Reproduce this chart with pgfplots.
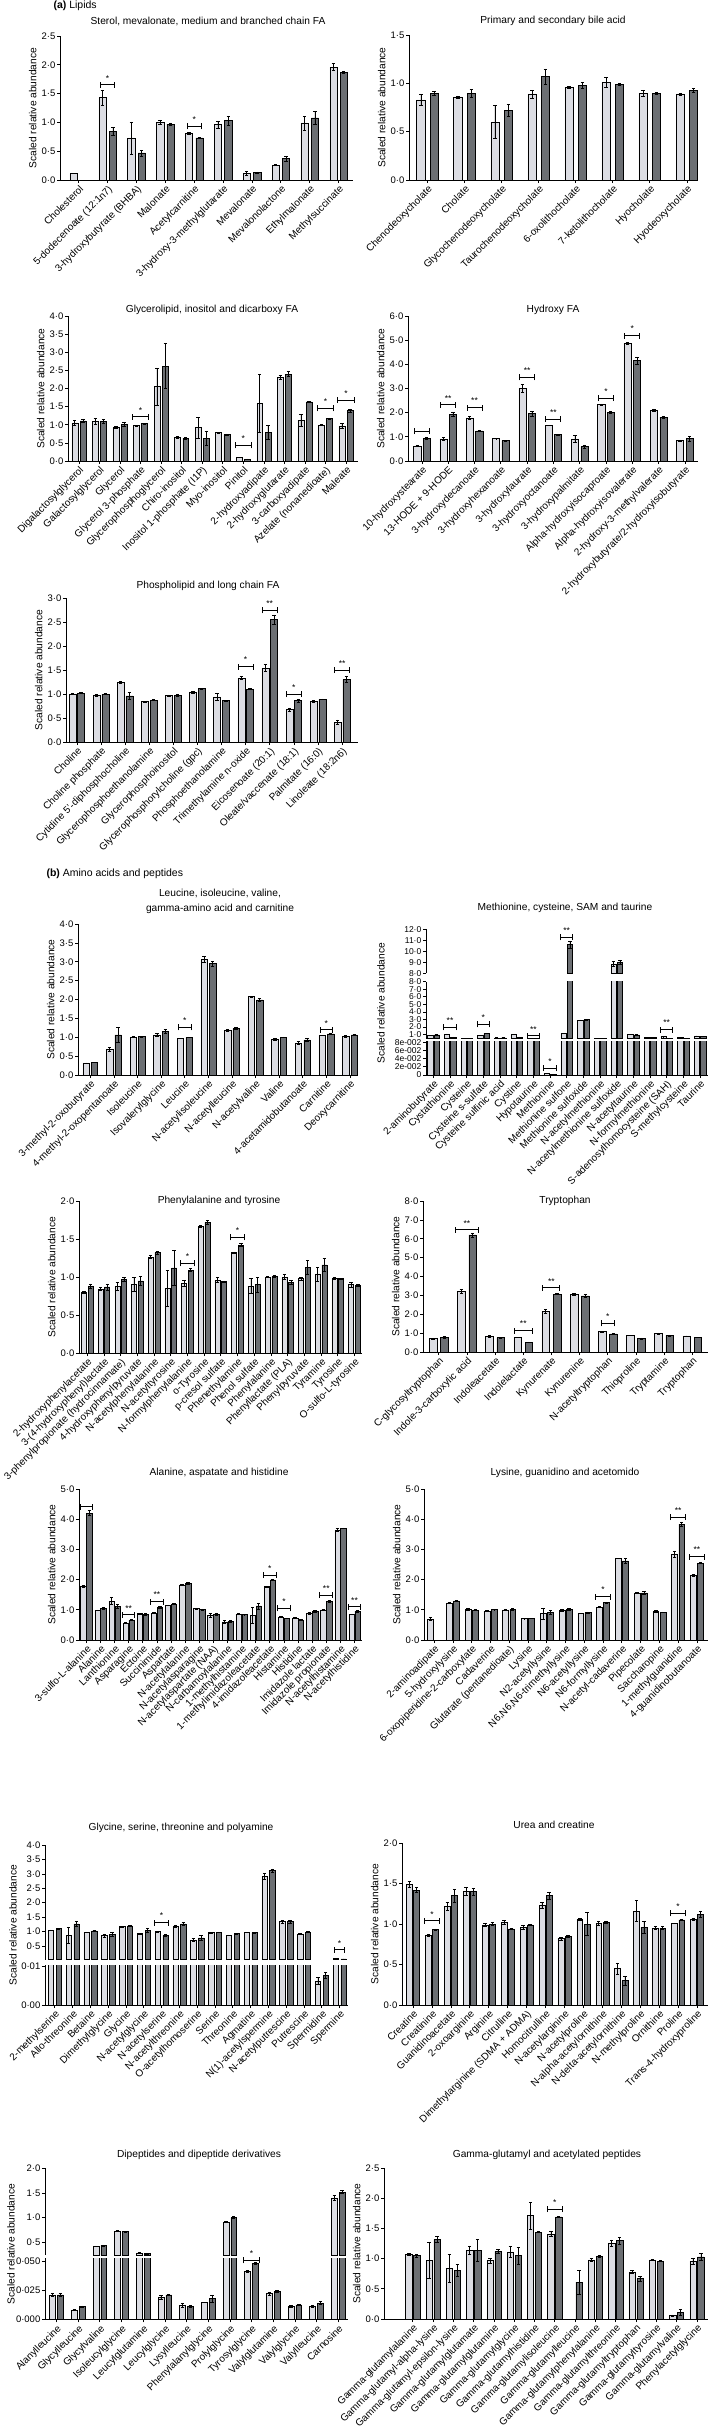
\documentclass[border=0pt]{standalone}
\usepackage{fontspec}
\setmainfont{Liberation Sans}
\usepackage{pgfplots}
\usepackage{pgfplotstable}
\pgfplotsset{compat=1.18}
\definecolor{lightc}{RGB}{220,221,227}
\definecolor{darkc}{RGB}{108,111,115}

\pgfplotsset{
  panel/.style={
    scale only axis, ybar, ymin=0, anchor=north west,
    axis lines*=left,
    axis line style={line width=0.9pt, black},
    tick style={line width=0.7pt, black},
    tick align=outside, major tick length=3pt,
    enlarge x limits=false,
    scaled y ticks=false,
    clip mode=individual,
    yticklabel style={font=\fontsize{9.5}{10}\selectfont, inner sep=1.5pt},
    xticklabel style={rotate=45, anchor=north east, inner sep=1pt, font=\fontsize{10}{11}\selectfont},
    ylabel={Scaled relative abundance},
    ylabel style={font=\fontsize{10.2}{11}\selectfont},
  },
  lbar/.style={fill=lightc, draw=black, line width=0.5pt,
    error bars/.cd, y dir=both, y explicit,
    error bar style={line width=0.6pt, black},
    error mark options={rotate=90, mark size=1.7pt, line width=0.6pt, black}},
  dbar/.style={fill=darkc, draw=black, line width=0.5pt,
    error bars/.cd, y dir=both, y explicit,
    error bar style={line width=0.6pt, black},
    error mark options={rotate=90, mark size=1.7pt, line width=0.6pt, black}},
}
\newcommand{\bars}[3]{%
  \addplot[bar width=#2, bar shift=-#3, lbar] table[x=x,y=a,y error=ae]{#1};
  \addplot[bar width=#2, bar shift=#3, dbar] table[x=x,y=b,y error=be]{#1};
}
\newcommand{\sig}[4]{%
  \draw[line width=1pt, black] (axis cs:#1,#2) ++(-#4pt,0pt) -- ++(2*#4pt,0pt);
  \draw[line width=1pt, black] (axis cs:#1,#2) ++(-#4pt,-3pt) -- ++(0pt,6pt);
  \draw[line width=1pt, black] (axis cs:#1,#2) ++(#4pt,-3pt) -- ++(0pt,6pt);
  \node[anchor=south, inner sep=0pt, yshift=3.5pt, font=\fontsize{8.5}{8.5}\selectfont] at (axis cs:#1,#2) {#3};
}

% ---------------- data ----------------
\pgfplotstableread{
x a ae b be
0 0.11 0 nan nan
1 1.43 0.13 0.84 0.07
2 0.73 0.28 0.47 0.05
3 1.00 0.03 0.97 0.02
4 0.81 0.02 0.73 0.01
5 0.96 0.06 1.03 0.08
6 0.12 0.03 0.13 0.01
7 0.26 0.01 0.37 0.04
8 0.99 0.12 1.08 0.11
9 1.96 0.06 1.87 0.02
}\tSterol
\pgfplotstableread{
x a ae b be
0 0.83 0.06 0.90 0.02
1 0.86 0.01 0.90 0.04
2 0.60 0.17 0.72 0.06
3 0.89 0.04 1.07 0.08
4 0.96 0.01 0.98 0.03
5 1.01 0.05 0.99 0.01
6 0.90 0.03 0.90 0.01
7 0.89 0.01 0.93 0.02
}\tBile
\pgfplotstableread{
x a ae b be
0 1.05 0.06 1.11 0.05
1 1.09 0.08 1.09 0.06
2 0.93 0.02 1.01 0.05
3 0.98 0.01 1.03 0.01
4 2.05 0.52 2.62 0.62
5 0.65 0.03 0.63 0.02
6 0.92 0.28 0.63 0.20
7 0.78 0.01 0.73 0.02
8 0.10 0.01 0.05 0.01
9 1.59 0.80 0.79 0.20
10 2.31 0.06 2.40 0.07
11 1.13 0.16 1.63 0.02
12 0.99 0.01 1.17 0.02
13 0.97 0.06 1.39 0.05
}\tGlyc
\pgfplotstableread{
x a ae b be
0 0.63 0.02 0.95 0.05
1 0.92 0.07 1.93 0.10
2 1.78 0.07 1.25 0.04
3 0.93 0.01 0.84 0.01
4 3.01 0.15 1.97 0.10
5 1.47 0.01 1.09 0.01
6 0.92 0.15 0.59 0.08
7 2.33 0.03 2.01 0.03
8 4.87 0.05 4.15 0.13
9 2.10 0.06 1.82 0.04
10 0.84 0.03 0.93 0.10
}\tHydroxy
\pgfplotstableread{
x a ae b be
0 1.00 0.005 1.02 0.01
1 0.98 0.02 1.00 0.01
2 1.25 0.02 0.96 0.08
3 0.84 0.01 0.87 0.01
4 0.97 0.01 0.97 0.02
5 1.04 0.02 1.11 0.01
6 0.94 0.07 0.86 0.01
7 1.33 0.03 1.10 0.01
8 1.54 0.07 2.55 0.10
9 0.68 0.03 0.86 0.03
10 0.84 0.02 0.89 0.01
11 0.41 0.05 1.30 0.06
}\tPhos
\pgfplotstableread{
x a ae b be
0 0.32 0 0.33 0
1 0.68 0.06 1.06 0.20
2 1.01 0.01 1.02 0.01
3 1.06 0.04 1.15 0.05
4 0.97 0.005 1.00 0.01
5 3.07 0.08 2.95 0.07
6 1.19 0.02 1.23 0.03
7 2.08 0.01 1.99 0.04
8 0.94 0.02 1.00 0.01
9 0.85 0.03 0.93 0.04
10 1.05 0.005 1.09 0.005
11 1.02 0.02 1.06 0.01
}\tLeu
\pgfplotstableread{
x a ae b be
0 0.90 0.02 0.95 0.03
1 1.05 0.02 0.65 0.02
2 0.50 0.01 0.48 0.01
3 0.88 0.02 1.14 0.03
4 0.55 0.01 0.55 0.01
5 1.00 0.03 0.62 0.05
6 0.50 0.01 0.47 0.01
7 0.004 0.0005 0.0015 0.0003
8 1.14 0.02 10.6 0.3
9 2.90 0.02 2.97 0.03
10 0.50 0.01 0.50 0.01
11 8.85 0.2 9.0 0.15
12 1.00 0.02 0.95 0.02
13 0.62 0.01 0.62 0.01
14 0.73 0.02 0.47 0.01
15 0.65 0.01 0.52 0.01
16 0.80 0.01 0.78 0.01
}\tMet
\pgfplotstableread{
x a ae b be
0 0.80 0.01 0.88 0.03
1 0.84 0.02 0.87 0.04
2 0.88 0.05 0.97 0.02
3 0.90 0.09 0.95 0.06
4 1.26 0.02 1.32 0.02
5 0.85 0.24 1.12 0.23
6 0.92 0.04 1.09 0.02
7 1.67 0.01 1.72 0.03
8 0.96 0.03 0.94 0.01
9 1.32 0.01 1.42 0.02
10 0.88 0.10 0.90 0.10
11 1.00 0.005 1.01 0.01
12 1.00 0.03 0.93 0.03
13 0.98 0.02 1.13 0.09
14 1.04 0.09 1.16 0.08
15 0.98 0.01 0.98 0.005
16 0.90 0.03 0.89 0.01
}\tPhe
\pgfplotstableread{
x a ae b be
0 0.72 0.03 0.77 0.06
1 3.20 0.10 6.20 0.10
2 0.84 0.05 0.76 0.03
3 0.77 0.01 0.53 0.01
4 2.15 0.10 3.07 0.03
5 3.07 0.05 2.98 0.06
6 1.09 0.02 0.96 0.02
7 0.89 0.01 0.72 0.03
8 0.97 0.04 0.88 0.03
9 0.85 0.005 0.78 0.01
}\tTrp
\pgfplotstableread{
x a ae b be
0 1.78 0.02 4.20 0.08
1 0.99 0.01 1.05 0.03
2 1.29 0.12 1.12 0.06
3 0.57 0.01 0.66 0.01
4 0.88 0.02 0.85 0.03
5 0.89 0.02 1.09 0.03
6 1.15 0.01 1.19 0.01
7 1.83 0.03 1.88 0.04
8 1.04 0.02 1.01 0.02
9 0.82 0.07 0.86 0.04
10 0.60 0.04 0.62 0.04
11 0.86 0.02 0.84 0.005
12 0.82 0.27 1.13 0.10
13 1.77 0.02 1.99 0.005
14 0.77 0.02 0.72 0.01
15 0.73 0.02 0.66 0.01
16 0.89 0.03 0.95 0.02
17 1.00 0.005 1.27 0.03
18 3.65 0.04 3.70 0.01
19 0.85 0.01 0.96 0.03
}\tAla
\pgfplotstableread{
x a ae b be
0 0.69 0.05 nan nan
1 1.23 0.01 1.30 0.02
2 1.01 0.04 0.99 0.02
3 0.96 0.01 1.01 0.005
4 1.00 0.03 1.02 0.02
5 0.71 0.005 0.72 0.005
6 0.88 0.18 0.91 0.06
7 0.99 0.03 1.01 0.03
8 0.88 0.01 0.91 0.02
9 1.10 0.01 1.24 0.02
10 2.70 0.01 2.62 0.07
11 1.56 0.02 1.56 0.05
12 0.96 0.03 0.92 0.01
13 2.85 0.10 3.84 0.07
14 2.13 0.03 2.55 0.02
}\tLys
\pgfplotstableread{
x a ae b be
0 1.05 0.01 1.10 0.02
1 0.86 0.27 1.27 0.08
2 0.98 0.01 1.02 0.01
3 0.86 0.06 0.89 0.07
4 1.17 0.01 1.20 0.02
5 0.93 0.02 1.04 0.06
6 1.00 0.01 0.87 0.02
7 1.19 0.04 1.27 0.05
8 0.70 0.05 0.78 0.10
9 0.96 0.005 0.98 0.01
10 0.88 0.005 0.93 0.01
11 0.97 0.01 0.96 0.01
12 2.91 0.10 3.12 0.05
13 1.35 0.05 1.34 0.05
14 0.92 0.02 0.98 0.02
15 0.0063 0.001 0.0078 0.0008
16 0.06 0.01 0.05 0.005
}\tGly
\pgfplotstableread{
x a ae b be
0 1.49 0.04 1.42 0.03
1 0.86 0.01 0.93 0.01
2 1.22 0.05 1.35 0.08
3 1.40 0.05 1.40 0.04
4 0.99 0.02 1.00 0.02
5 1.02 0.02 0.94 0.01
6 0.96 0.03 0.99 0.005
7 1.23 0.04 1.35 0.04
8 0.82 0.02 0.85 0.01
9 1.06 0.01 1.00 0.14
10 1.01 0.02 1.02 0.01
11 0.45 0.07 0.30 0.06
12 1.16 0.13 0.96 0.07
13 0.95 0.02 0.95 0.02
14 1.01 0.005 1.05 0.005
15 1.06 0.01 1.12 0.04
}\tUrea
\pgfplotstableread{
x a ae b be
0 0.021 0.0015 0.021 0.001
1 0.008 0.0003 0.011 0.0005
2 0.42 0.01 0.44 0.01
3 0.73 0.01 0.72 0.01
4 0.28 0.01 0.27 0.01
5 0.019 0.0015 0.021 0.0005
6 0.012 0.002 0.011 0.001
7 0.0145 0 0.018 0.003
8 0.91 0.01 1.00 0.02
9 0.041 0.001 0.048 0.001
10 0.022 0.0015 0.024 0.001
11 0.011 0.001 0.0125 0.0005
12 0.011 0.001 0.014 0.0015
13 1.40 0.05 1.52 0.03
}\tDip
\pgfplotstableread{
x a ae b be
0 1.07 0.02 1.05 0.02
1 0.97 0.30 1.32 0.05
2 0.84 0.23 0.81 0.10
3 1.14 0.07 1.14 0.18
4 0.97 0.04 1.12 0.03
5 1.11 0.09 1.05 0.14
6 1.71 0.22 1.44 0.01
7 1.41 0.04 1.69 0.01
8 nan nan 0.61 0.20
9 0.98 0.03 1.04 0.01
10 1.26 0.05 1.30 0.06
11 0.78 0.03 0.67 0.04
12 0.98 0.01 0.96 0.01
13 0.06 0.01 0.11 0.05
14 0.96 0.05 1.03 0.06
}\tGam

\begin{document}
\begin{tikzpicture}
\useasboundingbox (0pt,0pt) rectangle (709pt,-2433pt);
\tikzset{ttl/.style={font=\fontsize{10.2}{12}\selectfont}}

% headers and titles
\node[anchor=west, font=\fontsize{10.5}{12}\selectfont] at (50pt,-6pt) {\textbf{(a)} Lipids};
\node[anchor=west, font=\fontsize{10.5}{12}\selectfont] at (43pt,-874pt) {\textbf{(b)} Amino acids and peptides};
\node[ttl] at (208pt,-21pt) {Sterol, mevalonate, medium and branched chain FA};
\node[ttl] at (553pt,-21pt) {Primary and secondary bile acid};
\node[ttl] at (212pt,-310pt) {Glycerolipid, inositol and dicarboxy FA};
\node[ttl] at (553pt,-310pt) {Hydroxy FA};
\node[ttl] at (208pt,-586pt) {Phospholipid and long chain FA};
\node[ttl, align=center, font=\fontsize{10.2}{15}\selectfont] at (220pt,-901pt) {Leucine, isoleucine, valine,\\gamma-amino acid and carnitine};
\node[ttl] at (565pt,-908pt) {Methionine, cysteine, SAM and taurine};
\node[ttl] at (219pt,-1201pt) {Phenylalanine and tyrosine};
\node[ttl] at (565pt,-1201pt) {Tryptophan};
\node[ttl] at (219pt,-1473pt) {Alanine, aspatate and histidine};
\node[ttl] at (565pt,-1473pt) {Lysine, guanidino and acetomido};
\node[ttl] at (181pt,-1828pt) {Glycine, serine, threonine and polyamine};
\node[ttl] at (554pt,-1825pt) {Urea and creatine};
\node[ttl] at (199pt,-2155pt) {Dipeptides and dipeptide derivatives};
\node[ttl] at (547pt,-2155pt) {Gamma-glutamyl and acetylated peptides};

% ---------- P1 Sterol
\begin{axis}[panel, at={(60pt,-36pt)}, width=293pt, height=144pt,
  xmin=-0.65, xmax=9.5, ymax=2.5,
  ytick={0,0.5,1,1.5,2,2.5}, yticklabels={0·0,0·5,1·0,1·5,2·0,2·5},
  xtick={0,...,9},
  xticklabels={Cholesterol,5-dodecenoate (12:1n7),3-hydroxybutyrate (BHBA),Malonate,Acetylcarnitine,3-hydroxy-3-methylglutarate,Mevalonate,Mevalonolactone,Ethylmalonate,Methylsuccinate}]
\bars{\tSterol}{0.25}{0.18}
\sig{1}{1.65}{*}{7}
\sig{4}{0.93}{*}{7}
\end{axis}

% ---------- P2 Bile
\begin{axis}[panel, at={(409pt,-35pt)}, width=289pt, height=145pt,
  xmin=-0.5, xmax=7.3, ymax=1.5,
  ytick={0,0.5,1,1.5}, yticklabels={0·0,0·5,1·0,1·5},
  xtick={0,...,7},
  xticklabels={Chenodeoxycholate,Cholate,Glycochenodeoxycholate,Taurochenodeoxycholate,6-oxolithocholate,7-ketolithocholate,Hyocholate,Hyodeoxycholate}]
\bars{\tBile}{0.225}{0.18}
\end{axis}

% ---------- P3 Glycerolipid
\begin{axis}[panel, at={(68pt,-316pt)}, width=290pt, height=145pt,
  xmin=-0.53, xmax=13.58, ymax=4,
  ytick={0,0.5,1,1.5,2,2.5,3,3.5,4}, yticklabels={0·0,0·5,1·0,1·5,2·0,2·5,3·0,3·5,4·0},
  xtick={0,...,13},
  xticklabels={Digalactosylglycerol,Galactosylglycerol,Glycerol,Glycerol 3-phosphate,Glycerophosphoglycerol,Chiro-inositol,Inositol 1-phosphate (I1P),Myo-inositol,Pinitol,2-hydroxyadipate,2-hydroxyglutarate,3-carboxyadipate,Azelate (nonanedioate),Maleate}]
\bars{\tGlyc}{0.29}{0.2}
\sig{3}{1.22}{*}{8.3}
\sig{8}{0.43}{*}{8.3}
\sig{12}{1.45}{*}{8.3}
\sig{13}{1.68}{*}{8.3}
\end{axis}

% ---------- P4 Hydroxy
\begin{axis}[panel, at={(408pt,-316pt)}, width=290pt, height=145pt,
  xmin=-0.53, xmax=10.5, ymax=6,
  ytick={0,1,2,3,4,5,6}, yticklabels={0·0,1·0,2·0,3·0,4·0,5·0,6·0},
  xtick={0,...,10},
  xticklabels={10-hydroxystearate,13-HODE + 9-HODE,3-hydroxydecanoate,3-hydroxyhexanoate,3-hydroxylaurate,3-hydroxyoctanoate,3-hydroxypalmitate,Alpha-hydroxyisocaproate,Alpha-hydroxyisovalerate,2-hydroxy-3-methylvalerate,2-hydroxybutyrate/2-hydroxyisobutyrate}]
\bars{\tHydroxy}{0.27}{0.18}
\sig{0}{1.24}{}{7.5}
\sig{1}{2.32}{**}{7.5}
\sig{2}{2.21}{**}{7.5}
\sig{4}{3.46}{**}{7.5}
\sig{5}{1.73}{**}{7.5}
\sig{7}{2.6}{*}{7.5}
\sig{8}{5.19}{*}{7.5}
\end{axis}

% ---------- P5 Phospholipid
\begin{axis}[panel, at={(66pt,-598pt)}, width=292pt, height=144pt,
  xmin=-0.45, xmax=11.66, ymax=3,
  ytick={0,0.5,1,1.5,2,2.5,3}, yticklabels={0·0,0·5,1·0,1·5,2·0,2·5,3·0},
  xtick={0,...,11},
  xticklabels={Choline,Choline phosphate,Cytidine 5'-diphosphocholine,Glycerophosphoethanolamine,Glycerophosphoinositol,Glycerophosphorylcholine (gpc),Phosphoethanolamine,Trimethylamine n-oxide,Eicosenoate (20:1),Oleate/vaccenate (18:1),Palmitate (16:0),Linoleate (18:2n6)}]
\bars{\tPhos}{0.29}{0.18}
\sig{7}{1.57}{*}{7.5}
\sig{8}{2.74}{**}{7.5}
\sig{9}{1.0}{*}{7.5}
\sig{11}{1.5}{**}{7.5}
\end{axis}

% ---------- P6 Leucine
\begin{axis}[panel, at={(78pt,-924pt)}, width=280pt, height=151pt,
  xmin=-0.52, xmax=11.34, ymax=4,
  ytick={0,0.5,1,1.5,2,2.5,3,3.5,4}, yticklabels={0·0,0·5,1·0,1·5,2·0,2·5,3·0,3·5,4·0},
  xtick={0,...,11},
  xticklabels={3-methyl-2-oxobutyrate,4-methyl-2-oxopentanoate,Isoleucine,Isovalerylglycine,Leucine,N-acetylisoleucine,N-acetylleucine,N-acetylvaline,Valine,4-acetamidobutanoate,Carnitine,Deoxycarnitine}]
\bars{\tLeu}{0.27}{0.18}
\sig{4}{1.26}{*}{6.3}
\sig{10}{1.2}{*}{6.3}
\end{axis}

% ---------- P7 Methionine (broken axis)
\begin{axis}[panel, at={(426pt,-929.3pt)}, width=282pt, height=44pt,
  xmin=-0.44, xmax=16.48, ymin=8, ymax=12,
  axis x line=none, axis y line*=left, ylabel={},
  restrict y to domain=8:100,
  ytick={8,9,10,11,12}, yticklabels={8·0,9·0,10·0,11·0,12·0},
  yticklabel style={font=\fontsize{8.5}{9}\selectfont}]
\bars{\tMet}{0.32}{0.195}
\sig{8}{11.27}{**}{6.2}
\end{axis}
\begin{axis}[panel, at={(426pt,-981.7pt)}, width=282pt, height=56.9pt,
  xmin=-0.44, xmax=16.48, ymin=0.45, ymax=8,
  axis x line=none, axis y line*=left, ylabel={},
  restrict y to domain=0.45:100,
  ytick={1,2,3,4,5,6,7,8}, yticklabels={1·0,2·0,3·0,4·0,5·0,6·0,7·0,8·0},
  yticklabel style={font=\fontsize{8.5}{9}\selectfont}]
\bars{\tMet}{0.32}{0.195}
\sig{1}{1.94}{**}{6.2}
\sig{3}{2.34}{*}{6.2}
\sig{6}{0.8}{**}{6.2}
\sig{14}{1.64}{**}{6.2}
\end{axis}
\begin{axis}[panel, at={(426pt,-1041pt)}, width=282pt, height=34pt,
  xmin=-0.44, xmax=16.48, ymin=0, ymax=0.0832, ylabel={},
  ytick={0,0.02,0.04,0.06,0.08}, yticklabels={0,2e-002,4e-002,6e-002,8e-002},
  yticklabel style={font=\fontsize{8.5}{9}\selectfont},
  xtick={0,...,16},
  xticklabels={2-aminobutyrate,Cystathionine,Cysteine,Cysteine s-sulfate,Cysteine sulfinic acid,Cystine,Hypotaurine,Methionine,Methionine sulfone,Methionine sulfoxide,N-acetylmethionine,N-acetylmethionine sulfoxide,N-acetyltaurine,N-formylmethionine,S-adenosylhomocysteine (SAH),S-methylcysteine,Taurine}]
\bars{\tMet}{0.32}{0.195}
\sig{7}{0.016}{*}{6.2}
\end{axis}
\node[rotate=90, font=\fontsize{10.2}{11}\selectfont] at (381pt,-1003pt) {Scaled relative abundance};

% ---------- P8 Phenylalanine
\begin{axis}[panel, at={(79pt,-1201pt)}, width=283pt, height=152pt,
  xmin=-0.49, xmax=16.45, ymax=2,
  ytick={0,0.5,1,1.5,2}, yticklabels={0·0,0·5,1·0,1·5,2·0},
  xtick={0,...,16},
  xticklabels={2-hydroxyphenylacetate,3-(4-hydroxyphenyl)lactate,3-phenylpropionate (hydrocinnamate),4-hydroxyphenylpyruvate,N-acetylphenylalanine,N-acetyltyrosine,N-formylphenylalanine,o-Tyrosine,p-cresol sulfate,Phenethylamine,Phenol sulfate,Phenylalanine,Phenyllactate (PLA),Phenylpyruvate,Tyramine,Tyrosine,O-sulfo-L-tyrosine}]
\bars{\tPhe}{0.3}{0.2}
\sig{6}{1.18}{*}{6.8}
\sig{9}{1.52}{*}{6.8}
\end{axis}

% ---------- P9 Tryptophan
\begin{axis}[panel, at={(423pt,-1201pt)}, width=285pt, height=151pt,
  xmin=-0.56, xmax=9.56, ymax=8,
  ytick={0,1,2,3,4,5,6,7,8}, yticklabels={0·0,1·0,2·0,3·0,4·0,5·0,6·0,7·0,8·0},
  xtick={0,...,9},
  xticklabels={C-glycosyltryptophan,Indole-3-carboxylic acid,Indoleacetate,Indolelactate,Kynurenate,Kynurenine,N-acetyltryptophan,Thioproline,Tryptamine,Tryptophan}]
\bars{\tTrp}{0.27}{0.2}
\sig{1}{6.48}{**}{11.3}
\sig{3}{1.13}{**}{9}
\sig{4}{3.4}{**}{8.5}
\sig{6}{1.52}{*}{6.5}
\end{axis}

% ---------- P10 Alanine
\begin{axis}[panel, at={(79pt,-1489pt)}, width=283pt, height=151pt,
  xmin=-0.52, xmax=19.53, ymax=5,
  ytick={0,1,2,3,4,5}, yticklabels={0·0,1·0,2·0,3·0,4·0,5·0},
  xtick={0,...,19},
  xticklabels={3-sulfo-L-alanine,Alanine,Lanthionine,Asparagine,Ectoine,Succinimide,Aspartate,N-acetylalanine,N-acetylasparagine,N-acetylaspartate (NAA),N-carbamoylalanine,1-methylhistamine,1-methylimidazoleacetate,4-imidazoleacetate,Histamine,Histidine,Imidazole lactate,Imidazole propionate,N-acetylhistamine,N-acetylhistidine}]
\bars{\tAla}{0.38}{0.21}
\sig{0}{4.41}{}{6.3}
\sig{3}{0.83}{**}{6.3}
\sig{5}{1.27}{**}{6.3}
\sig{13}{2.15}{*}{6.3}
\sig{14}{1.05}{*}{6.3}
\sig{17}{1.49}{**}{6.3}
\sig{19}{1.1}{**}{6.3}
\end{axis}

% ---------- P11 Lysine
\begin{axis}[panel, at={(424pt,-1489pt)}, width=284pt, height=151pt,
  xmin=-0.54, xmax=14.59, ymax=5,
  ytick={0,1,2,3,4,5}, yticklabels={0·0,1·0,2·0,3·0,4·0,5·0},
  xtick={0,...,14},
  xticklabels={2-aminoadipate,5-hydroxylysine,6-oxopiperidine-2-carboxylate,Cadaverine,Glutarate (pentanedioate),Lysine,N2-acetyllysine,{N6,N6,N6-trimethyllysine},N6-acetyllysine,N6-formyllysine,N-acetyl-cadaverine,Pipecolate,Saccharopine,1-methylguanidine,4-guanidinobutanoate}]
\bars{\tLys}{0.31}{0.19}
\sig{9}{1.44}{*}{7.2}
\sig{13}{4.07}{**}{7.2}
\sig{14}{2.76}{**}{7.2}
\end{axis}

% ---------- P12 Glycine (broken axis)
\begin{axis}[panel, at={(45pt,-1845pt)}, width=303pt, height=114.5pt,
  xmin=-0.55, xmax=16.47, ymin=0.03, ymax=4,
  axis x line=none, axis y line*=left, ylabel={},
  restrict y to domain=0.03:100,
  ytick={0.5,1,1.5,2,2.5,3,3.5,4}, yticklabels={0·5,1·0,1·5,2·0,2·5,3·0,3·5,4·0}]
\bars{\tGly}{0.3}{0.22}
\sig{6}{1.31}{*}{7.2}
\sig{16}{0.37}{*}{5}
\end{axis}
\begin{axis}[panel, at={(45pt,-1965pt)}, width=303pt, height=40pt,
  xmin=-0.55, xmax=16.47, ymin=0, ymax=0.01043, ylabel={},
  ytick={0,0.01}, yticklabels={0·00,0·01},
  xtick={0,...,16},
  xticklabels={2-methylserine,Allo-threonine,Betaine,Dimethylglycine,Glycine,N-acetylglycine,N-acetylserine,N-acetylthreonine,O-acetylhomoserine,Serine,Threonine,Agmatine,N(1)-acetylspermine,N-acetylputrescine,Putrescine,Spermidine,Spermine}]
\bars{\tGly}{0.3}{0.22}
\end{axis}
\node[rotate=90, font=\fontsize{10.2}{11}\selectfont] at (13pt,-1925pt) {Scaled relative abundance};

% ---------- P13 Urea
\begin{axis}[panel, at={(402pt,-1843pt)}, width=306pt, height=162pt,
  xmin=-0.58, xmax=15.58, ymax=2,
  ytick={0,0.5,1,1.5,2}, yticklabels={0·0,0·5,1·0,1·5,2·0},
  xtick={0,...,15},
  xticklabels={Creatine,Creatinine,Guanidinoacetate,2-oxoarginine,Arginine,Citrulline,Dimethylarginine (SDMA + ADMA),Homocitrulline,N-acetylarginine,N-acetylproline,N-alpha-acetylornithine,N-delta-acetylornithine,N-methylproline,Ornithine,Proline,Trans-4-hydroxyproline}]
\bars{\tUrea}{0.31}{0.19}
\sig{1}{1.04}{*}{7.2}
\sig{14}{1.13}{*}{7.2}
\end{axis}

% ---------- P14 Dipeptides (broken axis)
\begin{axis}[panel, at={(45pt,-2168.3pt)}, width=303pt, height=86.7pt,
  xmin=-0.53, xmax=13.45, ymin=0.243, ymax=2,
  axis x line=none, axis y line*=left, ylabel={},
  restrict y to domain=0.243:100,
  ytick={0.5,1,1.5,2}, yticklabels={0·5,1·0,1·5,2·0}]
\bars{\tDip}{0.27}{0.18}
\end{axis}
\begin{axis}[panel, at={(45pt,-2258pt)}, width=303pt, height=61.3pt,
  xmin=-0.53, xmax=13.45, ymin=0, ymax=0.0526, ylabel={},
  ytick={0,0.025,0.05}, yticklabels={0·000,0·025,0·050},
  xtick={0,...,13},
  xticklabels={Alanylleucine,Glycylleucine,Glycylvaline,Isoleucylglycine,Leucylglutamine,Leucylglycine,Lysylleucine,Phenylalanylglycine,Prolylglycine,Tyrosylglycine,Valylglutamine,Valylglycine,Valylleucine,Carnosine}]
\bars{\tDip}{0.27}{0.18}
\sig{9}{0.0505}{*}{8.1}
\end{axis}
\node[rotate=90, font=\fontsize{10.2}{11}\selectfont] at (11pt,-2244pt) {Scaled relative abundance};

% ---------- P15 Gamma-glutamyl
\begin{axis}[panel, at={(384pt,-2168pt)}, width=324pt, height=151pt,
  xmin=-1.42, xmax=14.55, ymax=2.5,
  ytick={0,0.5,1,1.5,2,2.5}, yticklabels={0·0,0·5,1·0,1·5,2·0,2·5},
  xtick={0,...,14},
  xticklabels={Gamma-glutamylalanine,Gamma-glutamyl-alpha-lysine,Gamma-glutamyl-epsilon-lysine,Gamma-glutamylglutamate,Gamma-glutamylglutamine,Gamma-glutamylglycine,Gamma-glutamylhistidine,Gamma-glutamylisoleucine,Gamma-glutamylleucine,Gamma-glutamylphenylalanine,Gamma-glutamylthreonine,Gamma-glutamyltryptophan,Gamma-glutamyltyrosine,Gamma-glutamylvaline,Phenylacetylglycine}]
\bars{\tGam}{0.31}{0.195}
\sig{7}{1.82}{*}{7.7}
\end{axis}
\end{tikzpicture}
\end{document}
